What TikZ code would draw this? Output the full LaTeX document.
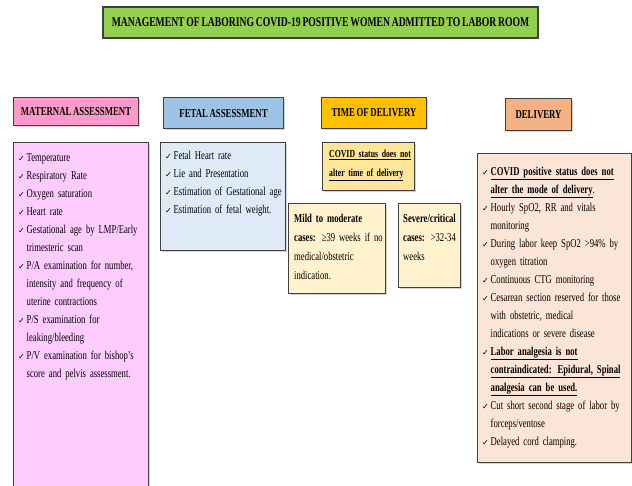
\documentclass[tikz,border=0pt]{standalone}
\usepackage{fontspec}
\setmainfont{Liberation Serif}[FakeStretch=0.72, WordSpace=0.72]
\newfontfamily\checkfont{DejaVu Sans}
\usetikzlibrary{shadows}

\definecolor{titlegreen}{HTML}{92D050}
\definecolor{matpink}{HTML}{FF99CC}
\definecolor{matlight}{HTML}{FFCCFF}
\definecolor{fetblue}{HTML}{9DC3E6}
\definecolor{fetlight}{HTML}{DEEBF7}
\definecolor{timegold}{HTML}{FFC000}
\definecolor{timelight}{HTML}{FFE699}
\definecolor{timepale}{HTML}{FFF2CC}
\definecolor{delpeach}{HTML}{F4B183}
\definecolor{dellight}{HTML}{FBE5D6}

\newcommand\ck{{\checkfont\fontsize{8}{8}\selectfont ✓}}
\newcommand\itm[1]{\par\hangindent=8.5pt\hangafter=1\noindent\makebox[8.5pt][l]{\ck}#1}
\newcommand\bul[1]{\textbf{\underline{#1}}}

\tikzset{
  boxline/.style={draw=black!75, line width=1.1pt,
    drop shadow={opacity=0.35, shadow xshift=1pt, shadow yshift=-1.2pt}},
  headbox/.style={boxline, anchor=north west, inner sep=0pt,
    font=\bfseries\fontsize{12.2}{14}\selectfont},
  bodybox/.style={boxline, anchor=north west, inner sep=0pt},
  listtext/.style={anchor=north west, inner sep=0pt,
    text width=#1, font=\fontsize{12}{18}\selectfont},
  listtext/.default=175pt
}

\begin{document}
\begin{tikzpicture}[x=1pt, y=-1pt]
\useasboundingbox (0,0) rectangle (632,485);

% title
\node[boxline, fill=titlegreen, line width=1.5pt, minimum width=435pt, minimum height=31pt,
      font=\bfseries\fontsize{13.4}{15}\selectfont] (title) at (320.5,22.5)
  {MANAGEMENT OF LABORING COVID-19 POSITIVE WOMEN ADMITTED TO LABOR ROOM};

% column heads
\node[headbox, fill=matpink, minimum width=125pt, minimum height=28pt] (mathead) at (13,97) {MATERNAL ASSESSMENT};
\node[headbox, fill=fetblue, minimum width=120pt, minimum height=31pt] (fethead) at (163,97) {FETAL ASSESSMENT};
\node[headbox, fill=timegold, minimum width=105pt, minimum height=31pt] (timehead) at (321,97) {TIME OF DELIVERY};
\node[headbox, fill=delpeach, minimum width=66pt, minimum height=32pt] (delhead) at (505,98) {DELIVERY};

% maternal assessment
\node[bodybox, fill=matlight, minimum width=135pt, minimum height=350pt] (matbody) at (13,142) {};
\node[listtext] (mattext) at ([xshift=5pt, yshift=-1pt]matbody.north west) {%
  \itm{Temperature}
  \itm{Respiratory Rate}
  \itm{Oxygen saturation}
  \itm{Heart rate}
  \itm{Gestational age by LMP/Early\newline trimesteric scan}
  \itm{P/A examination for number,\newline intensity and frequency of\newline uterine contractions}
  \itm{P/S examination for\newline leaking/bleeding}
  \itm{P/V examination for bishop’s\newline score and pelvis assessment.}\par};

% fetal assessment
\node[bodybox, fill=fetlight, minimum width=125pt, minimum height=108pt] (fetbody) at (160,142) {};
\node[listtext] (fettext) at ([xshift=5pt, yshift=1pt]fetbody.north west) {%
  \itm{Fetal Heart rate}
  \itm{Lie and Presentation}
  \itm{Estimation of Gestational age}
  \itm{Estimation of fetal weight.}\par};

% time of delivery
\node[bodybox, fill=timelight, minimum width=92pt, minimum height=48pt] (covid) at (322,142) {};
\node[listtext, font=\bfseries\fontsize{10.8}{18.5}\selectfont] (covidtext) at ([xshift=7pt, yshift=-8pt]covid.north west)
  {\underline{COVID status does not}\newline\underline{alter time of delivery}};

\node[bodybox, fill=timepale, minimum width=97pt, minimum height=90pt] (mild) at (288,203) {};
\node[listtext, font=\fontsize{12}{19}\selectfont] (mildtext) at ([xshift=6pt, yshift=-11pt]mild.north west)
  {\textbf{Mild to moderate}\newline\textbf{cases:} ≥39 weeks if no\newline medical/obstetric\newline indication.};

\node[bodybox, fill=timepale, minimum width=62pt, minimum height=84pt] (severe) at (398,203) {};
\node[listtext, font=\fontsize{12}{19}\selectfont] (severetext) at ([xshift=5pt, yshift=-11pt]severe.north west)
  {\textbf{Severe/critical}\newline\textbf{cases:} >32-34\newline weeks};

% delivery
\node[bodybox, fill=dellight, minimum width=154pt, minimum height=309pt] (delbody) at (477,153) {};
\node[listtext] (deltext) at ([xshift=5pt, yshift=-4pt]delbody.north west) {%
  \itm{\bul{COVID positive status does not}\newline\bul{alter the mode of delivery}.}
  \itm{Hourly SpO2, RR and vitals\newline monitoring}
  \itm{During labor keep SpO2 >94\% by\newline oxygen titration}
  \itm{Continuous CTG monitoring}
  \itm{Cesarean section reserved for those\newline with obstetric, medical\newline indications or severe disease}
  \itm{\bul{Labor analgesia is not}\newline\bul{contraindicated: Epidural, Spinal}\newline\bul{analgesia can be used.}}
  \itm{Cut short second stage of labor by\newline forceps/ventose}
  \itm{Delayed cord clamping.}\par};
\end{tikzpicture}
\end{document}
